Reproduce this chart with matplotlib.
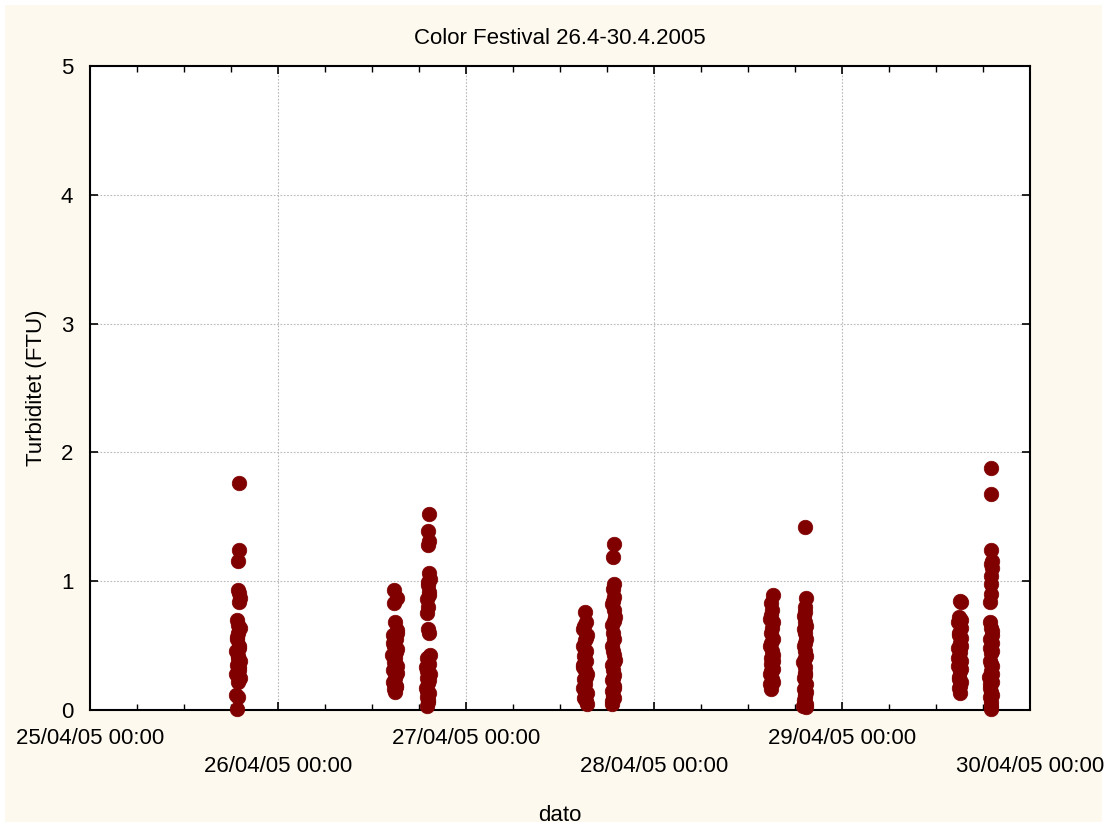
import pandas as pd
import matplotlib
matplotlib.use("Agg")
import matplotlib.pyplot as plt
import matplotlib.dates as mdates
from matplotlib.ticker import FuncFormatter

plt.rcParams['font.family'] = ['Liberation Sans', 'DejaVu Sans']

# turbidity samples, grouped by sampling round (date, times, values)
day1 = "2005-04-25"
times1 = ["18:58", "19:00", "18:57", "18:52", "19:05", "19:10", "19:02", "18:45", "18:50", "18:55", "18:48", "19:00",
          "18:40", "18:52", "19:08", "18:44", "18:58", "18:36", "19:12", "18:50", "18:42", "18:55", "18:48",
          "19:06", "18:46", "19:04", "18:56", "19:02", "18:50", "19:00"]
vals1 = [1.76, 1.24, 1.16, 0.93, 0.91, 0.87, 0.84, 0.70, 0.66, 0.60, 0.55, 0.50,
         0.46, 0.42, 0.38, 0.35, 0.31, 0.28, 0.25, 0.22, 0.12, 0.10, 0.01,
         0.64, 0.57, 0.48, 0.40, 0.33, 0.27, 0.24]

day2 = "2005-04-26"
times2a = ["14:50", "15:15", "14:45", "14:58", "15:10", "14:40", "15:05", "14:52", "15:12", "14:35",
           "15:00", "14:48", "15:08", "14:42", "15:02", "14:55", "14:38", "15:06", "14:50", "14:58",
           "15:10", "14:44", "15:02", "14:55", "15:08", "14:46", "15:04"]
vals2a = [0.93, 0.87, 0.83, 0.68, 0.62, 0.58, 0.55, 0.50, 0.47, 0.43,
          0.40, 0.37, 0.34, 0.31, 0.28, 0.25, 0.22, 0.19, 0.16, 0.14,
          0.60, 0.52, 0.45, 0.36, 0.29, 0.21, 0.18]
times2b = ["19:20", "19:12", "19:18", "19:10", "19:15", "19:22", "19:08", "19:18", "19:05", "19:12", "19:00", "19:10",
           "19:20", "19:22", "19:05", "19:15", "18:55", "19:25", "19:02", "19:12", "18:50", "19:18", "19:00", "19:08", "18:58",
           "19:10", "19:15", "19:02", "19:14", "19:05", "19:12"]
vals2b = [1.52, 1.39, 1.31, 1.28, 1.06, 1.02, 0.97, 0.92, 0.86, 0.80, 0.75, 0.63,
          0.60, 0.43, 0.40, 0.36, 0.33, 0.28, 0.25, 0.21, 0.17, 0.13, 0.10, 0.06, 0.03,
          0.99, 0.89, 0.30, 0.23, 0.15, 0.08]

day3 = "2005-04-27"
times3a = ["15:15", "15:20", "15:00", "15:25", "15:10", "14:58", "15:22", "15:05", "15:18", "14:55",
           "15:12", "15:28", "15:02", "15:15", "14:58", "15:25", "15:08", "15:20", "15:30",
           "15:05", "15:18", "15:12", "15:00", "15:20", "15:10", "15:02"]
vals3a = [0.76, 0.68, 0.63, 0.58, 0.54, 0.50, 0.46, 0.42, 0.38, 0.35,
          0.31, 0.28, 0.24, 0.20, 0.17, 0.13, 0.10, 0.07, 0.05,
          0.65, 0.56, 0.44, 0.33, 0.26, 0.15, 0.09]
times3b = ["18:50", "18:48", "18:50", "18:45", "18:55", "18:40", "18:52", "18:58", "18:42", "18:48", "18:55", "18:38",
           "18:50", "18:58", "18:35", "18:45", "18:55", "18:40", "18:50", "18:36", "18:48", "18:42", "18:38",
           "18:45", "18:55", "18:44", "18:52", "18:46", "18:56", "18:52"]
vals3b = [1.29, 1.19, 0.98, 0.94, 0.88, 0.82, 0.78, 0.72, 0.66, 0.60, 0.55, 0.50,
          0.43, 0.39, 0.35, 0.31, 0.27, 0.23, 0.19, 0.15, 0.11, 0.07, 0.05,
          0.85, 0.69, 0.46, 0.37, 0.25, 0.17, 0.09]

day4 = "2005-04-28"
times4a = ["15:08", "15:00", "15:05", "14:50", "15:12", "14:58", "15:10", "14:52", "15:05",
           "15:15", "14:55", "15:00", "15:08", "14:50", "15:02", "14:48", "14:55",
           "14:55", "15:05", "14:58", "15:10", "14:55", "15:08"]
vals4a = [0.89, 0.83, 0.78, 0.71, 0.68, 0.60, 0.55, 0.50, 0.46,
          0.43, 0.40, 0.36, 0.32, 0.28, 0.24, 0.20, 0.16,
          0.74, 0.64, 0.52, 0.38, 0.30, 0.22]
times4b = ["19:20", "19:22", "19:18", "19:12", "19:20", "19:08", "19:15", "19:25", "19:10", "19:18", "19:22",
           "19:05", "19:15", "19:20", "19:10", "19:25", "19:08", "19:18", "19:12", "19:22", "19:05", "19:28",
           "19:15", "19:25", "19:14", "19:15", "19:20", "19:22", "19:15"]
vals4b = [1.42, 0.87, 0.80, 0.73, 0.68, 0.63, 0.60, 0.55, 0.50, 0.46, 0.42,
          0.37, 0.33, 0.29, 0.25, 0.20, 0.16, 0.12, 0.08, 0.05, 0.03, 0.02,
          0.76, 0.65, 0.52, 0.40, 0.27, 0.14, 0.10]

day5 = "2005-04-29"
times5a = ["15:05", "15:12", "15:00", "14:52", "15:08", "14:55", "15:10", "15:02", "14:48",
           "15:06", "14:58", "15:12", "14:50", "15:04", "14:56", "15:08", "15:00", "15:02",
           "15:10", "14:55", "15:08", "14:52", "15:10", "14:54", "15:06"]
vals5a = [0.85, 0.84, 0.72, 0.68, 0.64, 0.60, 0.56, 0.52, 0.48,
          0.45, 0.42, 0.38, 0.34, 0.30, 0.26, 0.22, 0.17, 0.13,
          0.70, 0.58, 0.50, 0.40, 0.32, 0.24, 0.19]
times5b = ["19:05", "19:05", "19:00", "19:08", "19:10", "18:58", "19:02", "19:05", "18:55", "18:50", "19:00", "19:08", "19:12",
           "18:55", "19:05", "18:52", "19:10", "19:00", "18:48", "19:08", "18:55", "19:02", "18:50", "19:05", "18:58", "19:00",
           "18:58", "19:08", "18:52", "19:10", "19:02", "19:12", "18:54", "19:06"]
vals5b = [1.88, 1.68, 1.24, 1.16, 1.10, 1.04, 0.98, 0.90, 0.84, 0.68, 0.64, 0.58, 0.52,
          0.48, 0.44, 0.38, 0.34, 0.30, 0.26, 0.22, 0.17, 0.14, 0.10, 0.06, 0.03, 0.01,
          1.13, 0.61, 0.55, 0.46, 0.36, 0.28, 0.20, 0.12]

rounds = [
    (day1, times1, vals1),
    (day2, times2a, vals2a), (day2, times2b, vals2b),
    (day3, times3a, vals3a), (day3, times3b, vals3b),
    (day4, times4a, vals4a), (day4, times4b, vals4b),
    (day5, times5a, vals5a), (day5, times5b, vals5b),
]

dates = []
values = []
for day, times, vals in rounds:
    dates += [pd.Timestamp(day + " " + t) for t in times]
    values += vals

bg = "#fdf9ee"
fig = plt.figure(figsize=(11.07, 8.27), dpi=100, facecolor=bg)
fig.patch.set_edgecolor("white")
fig.patch.set_linewidth(6)
ax = fig.add_axes([90 / 1107, 117 / 827, 940 / 1107, 644 / 827])
ax.set_facecolor("white")

ax.scatter(dates, values, s=110, color="#800000", edgecolors="#800000", linewidths=0.5, zorder=3, clip_on=False)

ax.set_xlim(pd.Timestamp("2005-04-25 00:00"), pd.Timestamp("2005-04-30 00:00"))
ax.set_ylim(0, 5)
ax.set_yticks([0, 1, 2, 3, 4, 5])

ax.xaxis.set_major_locator(mdates.DayLocator())
ax.xaxis.set_minor_locator(mdates.HourLocator(byhour=[6, 12, 18]))


def stagger(x, pos):
    label = mdates.num2date(x).strftime("%d/%m/%y %H:%M")
    if pos is not None and pos % 2 == 1:
        return "\n" + label
    return label


ax.xaxis.set_major_formatter(FuncFormatter(stagger))

ax.grid(True, which="major", color="#b8b8b8", linestyle=(0, (1.5, 1.5)), linewidth=0.8)
ax.tick_params(which="both", direction="in", top=True, right=True, labelsize=16, colors="black")
ax.tick_params(which="major", length=6, width=1.2)
ax.tick_params(which="minor", length=4, width=1.0)
ax.tick_params(axis="x", pad=13)
ax.tick_params(axis="y", pad=12)
for lab in ax.get_xticklabels():
    lab.set_linespacing(1.45)
for sp in ax.spines.values():
    sp.set_linewidth(1.5)

ax.set_title("Color Festival 26.4-30.4.2005", fontsize=16, pad=16)
ax.set_xlabel("dato", fontsize=16, labelpad=20)
ax.set_ylabel("Turbiditet (FTU)", fontsize=16, labelpad=10)

fig.savefig("out.png", dpi=100, facecolor=bg, edgecolor="white")
